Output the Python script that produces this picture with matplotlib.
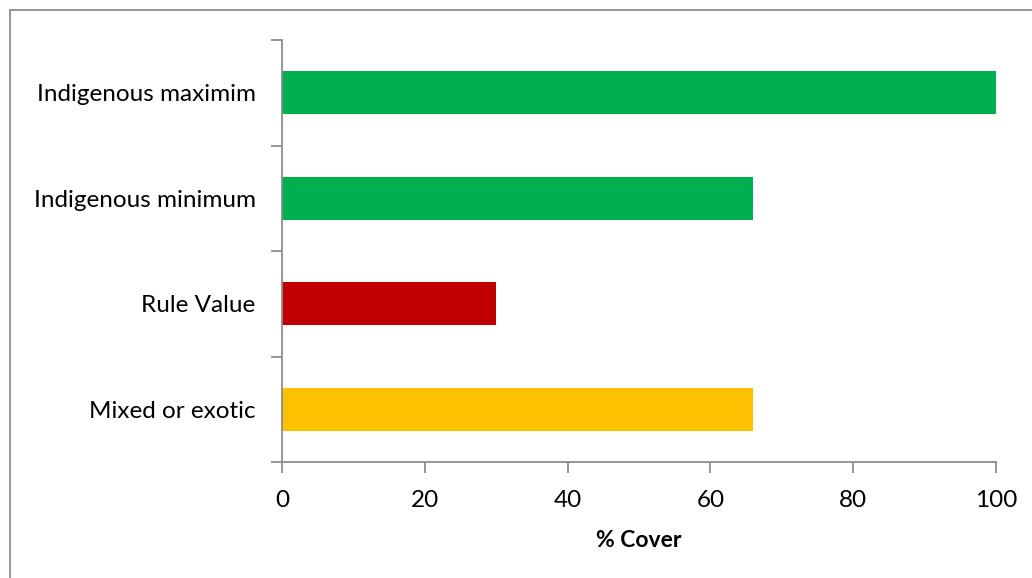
import matplotlib.pyplot as plt
import numpy as np
from matplotlib.patches import Rectangle

categories = ["Mixed or exotic", "Rule Value", "Indigenous minimum", "Indigenous maximim"]
values = [66, 30, 66, 100]
colors = ["#FFC000", "#C00000", "#00B050", "#00B050"]

plt.rcParams['font.family'] = ['Lato', 'DejaVu Sans']

fig = plt.figure(figsize=(10.32, 5.78), dpi=100)
ax = fig.add_axes([282 / 1032, 1 - 462 / 578, (996 - 282) / 1032, (462 - 40) / 578])

y = np.arange(len(categories))
ax.barh(y, values, height=0.41, color=colors)

ax.set_xlim(0, 100)
ax.set_ylim(-0.5, len(categories) - 0.5)
ax.set_xticks(np.arange(0, 101, 20))
ax.set_yticks(y)
ax.set_yticklabels(categories)
ax.set_yticks(np.arange(-0.5, len(categories), 1), minor=True)

grey = "#8c8c8c"
for s in ["top", "right"]:
    ax.spines[s].set_visible(False)
for s in ["left", "bottom"]:
    ax.spines[s].set_color(grey)
    ax.spines[s].set_linewidth(1.3)

ax.tick_params(axis="y", which="major", length=0, pad=19, labelsize=17.5)
ax.tick_params(axis="y", which="minor", length=8, color=grey, width=1.3)
ax.tick_params(axis="x", which="major", length=8, color=grey, width=1.3, labelsize=17.5, pad=12)

ax.set_xlabel("% Cover", fontsize=16.5, fontweight="bold", labelpad=14)

fig.patches.append(Rectangle((10 / 1032, -0.1), 1.2, 1 - 10 / 578 + 0.1, transform=fig.transFigure,
                             fill=False, edgecolor=grey, linewidth=1.3))

plt.savefig("out.png", dpi=100)
